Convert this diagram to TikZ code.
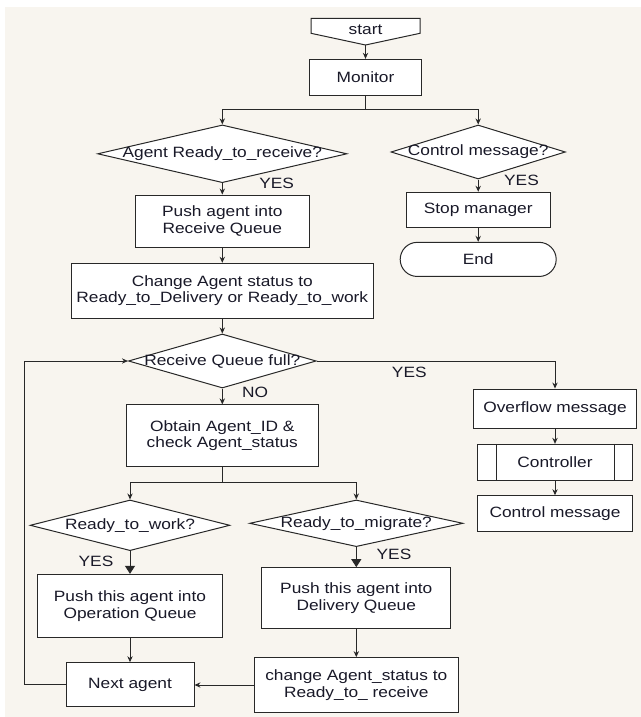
\documentclass[tikz,border=0pt]{standalone}
\usepackage{fontspec}
\setmainfont{Liberation Sans}[FakeStretch=1.16]
\usetikzlibrary{shapes.geometric,arrows.meta}
\definecolor{bg}{RGB}{248,245,239}
\definecolor{ink}{RGB}{25,25,40}
\definecolor{ln}{RGB}{40,40,40}
\begin{document}
\begin{tikzpicture}[x=0.75pt,y=-0.75pt,
  every node/.style={font=\fontsize{11.2pt}{12.5pt}\selectfont, text=ink},
  box/.style={draw=ln, line width=0.75pt, fill=white, align=center, inner sep=0pt},
  dec/.style={diamond, draw=ln, line width=0.75pt, fill=white, inner sep=0pt},
  lbl/.style={inner sep=0pt},
  conn/.style={draw=ln, line width=0.75pt},
  arr/.style={conn, -{Stealth[length=4.5pt,width=4pt]}},
  barr/.style={conn, -{Triangle[length=6pt,width=7.5pt]}},
]
\fill[white] (0,0) rectangle (641,717);
\fill[bg] (5,7) rectangle (641,717);
\useasboundingbox (0,0) rectangle (641,717);

% start
\draw[ln, line width=0.75pt, fill=white] (311,18.3) -- (420,18.3) -- (420,33.3) -- (365.5,45) -- (311,33.3) -- cycle;
\node[lbl] (start) at (365.5,30) {start};
\coordinate (startp) at (365.5,45);

\node[box, minimum width=84pt, minimum height=26.8pt] (monitor) at (365.5,77.2) {Monitor};
\draw[arr] (startp) -- (monitor.north);

\node[dec, minimum width=187pt, minimum height=43.3pt] (d1) at (222.3,153.8) {\makebox[0pt]{Agent Ready\_to\_receive?}};
\node[dec, minimum width=130.8pt, minimum height=40.5pt] (d2) at (478.2,152) {\makebox[0pt]{Control message?}};
\coordinate (j1) at (365.5,109);
\draw[conn] (monitor.south) -- (j1);
\draw[arr] (j1) -| (d1.north);
\draw[arr] (j1) -| (d2.north);

\node[box, minimum width=130.5pt, minimum height=39.2pt] (pushr) at (222.3,221.2) {Push agent into\\Receive Queue};
\draw[arr] (d1.south) -- (pushr.north);
\node[lbl] (yes1) at (276.7,183.3) {YES};

\node[box, minimum width=108pt, minimum height=26.6pt] (stop) at (478.2,210) {Stop manager};
\draw[arr] (d2.south) -- (stop.north);
\node[lbl] (yes2) at (521.5,180) {YES};
\node[box, rounded corners=12.8pt, minimum width=117pt, minimum height=25.6pt] (end) at (478.2,259.4) {End};
\draw[arr] (stop.south) -- (end.north);

\node[box, minimum width=226.7pt, minimum height=41.25pt] (chg) at (222.3,290.8) {Change Agent status to\\Ready\_to\_Delivery or Ready\_to\_work};
\draw[arr] (pushr.south) -- (chg.north);

\node[dec, minimum width=140.8pt, minimum height=40.5pt] (d3) at (222.3,361) {\makebox[0pt]{Receive Queue full?}};
\draw[arr] (chg.south) -- (d3.north);

\node[box, minimum width=122.5pt, minimum height=29.5pt] (ovf) at (555,408.7) {Overflow message};
\draw[arr] (d3.east) -| (ovf.north);
\node[lbl] (yes3) at (409.3,372.7) {YES};

\node[box, minimum width=144.2pt, minimum height=46.3pt] (obt) at (222.3,435.8) {Obtain Agent\_ID \&\\check Agent\_status};
\draw[arr] (d3.south) -- (obt.north);
\node[lbl] (no) at (255,392.7) {NO};

\node[box, minimum width=116pt, minimum height=26.8pt] (ctl) at (555,462.2) {Controller};
\draw[conn] ([xshift=14.5pt]ctl.north west) -- ([xshift=14.5pt]ctl.south west);
\draw[conn] ([xshift=-13.5pt]ctl.north east) -- ([xshift=-13.5pt]ctl.south east);
\draw[arr] (ovf.south) -- (ctl.north);
\node[box, minimum width=116pt, minimum height=27pt] (cmsg) at (555,513.7) {Control message};
\draw[arr] (ctl.south) -- (cmsg.north);

\node[dec, minimum width=149.8pt, minimum height=38pt] (d4) at (130,525.3) {\makebox[0pt]{Ready\_to\_work?}};
\node[dec, minimum width=160pt, minimum height=35pt] (d5) at (356.3,523.3) {\makebox[0pt]{Ready\_to\_migrate?}};
\coordinate (j2) at (222.3,482.3);
\draw[conn] (obt.south) -- (j2);
\draw[arr] (j2) -| (d4.north);
\draw[arr] (j2) -| (d5.north);

\node[box, minimum width=138.5pt, minimum height=47.5pt] (pop) at (130,606) {Push this agent into\\Operation Queue};
\draw[barr] (d4.south) -- (pop.north);
\node[lbl] (yes4) at (96,561) {YES};
\node[box, minimum width=141.75pt, minimum height=45.5pt] (pdel) at (356.3,598) {Push this agent into\\Delivery Queue};
\draw[barr] (d5.south) -- (pdel.north);
\node[lbl] (yes5) at (394,554) {YES};

\node[box, minimum width=96pt, minimum height=33pt] (next) at (130,684.7) {Next agent};
\draw[arr] (pop.south) -- (next.north);
\node[box, minimum width=153.3pt, minimum height=41pt] (chr) at (356.3,685) {change Agent\_status to\\Ready\_to\_ receive};
\draw[arr] (pdel.south) -- (chr.north);
\draw[arr] (chr.west) -- (chr.west -| next.east);

\coordinate (lp) at (24,684.7);
\draw[arr] (next.west) -- (lp) |- (d3.west);
\end{tikzpicture}
\end{document}
